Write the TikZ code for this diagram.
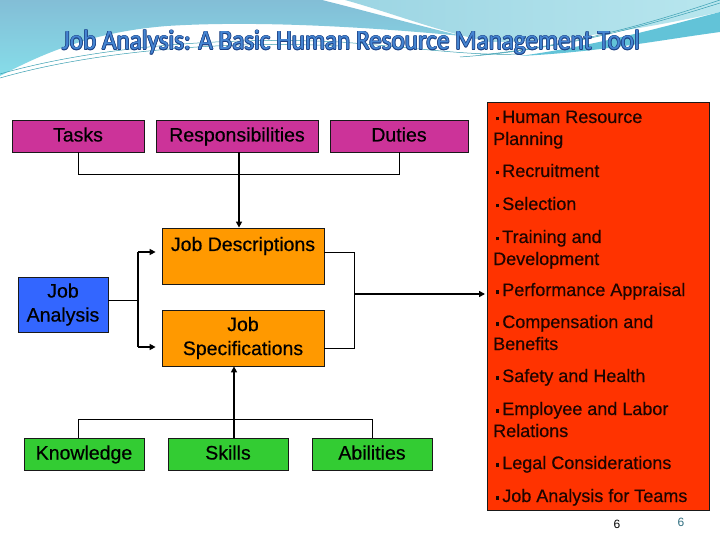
\documentclass[tikz,border=0pt]{standalone}
\usepackage{fontspec}
\setmainfont{Liberation Sans}
\newfontfamily\bxfont{Liberation Sans}[RawFeature={embolden=0.5}]
\newfontfamily\ttlfont{Carlito}
\usetikzlibrary{arrows.meta}
\definecolor{mag}{HTML}{CC3399}
\definecolor{orng}{HTML}{FF9900}
\definecolor{jblue}{HTML}{3366FF}
\definecolor{grn}{HTML}{33CC33}
\definecolor{hrred}{HTML}{FF3300}
\definecolor{hrtext}{HTML}{1E0500}
\definecolor{ttlfill}{HTML}{4585D2}
\definecolor{ttlline}{HTML}{1D4285}
\definecolor{hdrblue}{HTML}{83BED6}
\definecolor{hdrcyan}{HTML}{86DDE9}
\definecolor{hdrlightA}{HTML}{9CD5E3}
\definecolor{hdrlightB}{HTML}{B8E6EE}
\definecolor{hdrband}{HTML}{62C3D8}
\definecolor{hdrline}{HTML}{3A9FB2}
\definecolor{pgteal}{HTML}{2F6E80}
\newcommand{\ttltext}{\resizebox{578pt}{\height}{\ttlfont\fontsize{28}{32}\selectfont Job Analysis: A Basic Human Resource Management Tool}}
\newcommand{\bul}{\hspace{2.5pt}\rule[2.5pt]{3.6pt}{3.6pt}\hspace{3pt}}
\begin{document}
\begin{tikzpicture}[x=1pt,y=-1pt,
  box/.style={draw=black!90, line width=0.8pt, inner sep=0pt, text=black, font=\bxfont\fontsize{19.5}{24}\selectfont, align=center},
  onebox/.style={box, minimum height=32pt, text height=14pt, text depth=3pt},
  thinln/.style={line width=0.9pt},
  thickln/.style={line width=2pt},
  arrowend/.style={-{Triangle[length=6pt,width=6pt]}},
  item/.style={anchor=base west, inner sep=0pt, text=hrtext, font=\bxfont\fontsize{18}{22}\selectfont},
  ttl/.style={anchor=base, inner sep=0pt}]
\useasboundingbox (0,0) rectangle (720,540);
\fill[white] (0,0) rectangle (720,540);
% header background
\path[top color=hdrblue, bottom color=hdrcyan] (0,0) -- (322,0) .. controls (370,12) and (420,26) .. (462,36) .. controls (380,28) and (260,20) .. (167,26) .. controls (90,32) and (40,55) .. (0,76) -- cycle;
\path[left color=hdrlightA, right color=hdrlightB] (345,0) -- (720,0) -- (720,12) .. controls (640,30) and (560,42) .. (490,42) .. controls (440,32) and (395,14) .. (345,0) -- cycle;
\fill[hdrband] (720,12) -- (720,32) .. controls (660,40) and (600,52) .. (520,56) .. controls (600,45) and (670,25) .. (720,12) -- cycle;
\draw[hdrline, line width=0.5pt] (0,74) .. controls (90,48) and (220,36) .. (340,42) .. controls (420,48) and (470,56) .. (520,54);
\draw[hdrline, line width=0.5pt] (0,78) .. controls (90,52) and (220,40) .. (340,46);
\draw[hdrline, line width=0.5pt] (460,57) .. controls (560,50) and (650,25) .. (720,3);
\draw[hdrline, line width=0.5pt] (480,55) .. controls (580,45) and (660,20) .. (720,0);
% title
\foreach \dx/\dy [count=\k] in {0.7/0, -0.7/0, 0/0.7, 0/-0.7, 0.5/0.5, 0.5/-0.5, -0.5/0.5, -0.5/-0.5}
  \node[ttl, text=ttlline] (tsh\k) at (351+\dx, 50+\dy) {\ttltext};
\node[ttl, text=ttlfill] (title) at (351,50) {\ttltext};
% top row
\node[onebox, fill=mag, minimum width=132pt] (tasks) at (78,136) {Tasks};
\node[onebox, fill=mag, minimum width=162pt] (resp) at (237,136) {Responsibilities};
\node[onebox, fill=mag, minimum width=138pt] (duties) at (399,136) {Duties};
% middle
\node[box, fill=orng, minimum width=162pt, minimum height=56pt, text height=14pt, text depth=24pt] (jd) at (243,256) {Job Descriptions};
\node[box, fill=orng, minimum width=162pt, minimum height=56pt] (js) at (243,338) {Job\\Specifications};
\node[box, fill=jblue, minimum width=90pt, minimum height=55pt] (ja) at (63,304.5) {Job\\Analysis};
% bottom row
\node[onebox, fill=grn, minimum width=120pt] (know) at (84,454) {Knowledge};
\node[onebox, fill=grn, minimum width=120pt] (skills) at (228,454) {Skills};
\node[onebox, fill=grn, minimum width=120pt] (abil) at (372,454) {Abilities};
% HR box
\node[draw=black!90, line width=0.8pt, fill=hrred, minimum width=222pt, minimum height=408pt, inner sep=0pt, anchor=north west] (hr) at (487,102) {};
\node[item] (h1) at (493,123) {\bul Human Resource};
\node[item] (h1b) at (493,145) {Planning};
\node[item] (h2) at (493,177) {\bul Recruitment};
\node[item] (h3) at (493,210) {\bul Selection};
\node[item] (h4) at (493,243) {\bul Training and};
\node[item] (h4b) at (493,265) {Development};
\node[item] (h5) at (493,296) {\bul Performance Appraisal};
\node[item] (h6) at (493,328) {\bul Compensation and};
\node[item] (h6b) at (493,350) {Benefits};
\node[item] (h7) at (493,382) {\bul Safety and Health};
\node[item] (h8) at (493,415) {\bul Employee and Labor};
\node[item] (h8b) at (493,437) {Relations};
\node[item] (h9) at (493,469) {\bul Legal Considerations};
\node[item] (h10) at (493,502) {\bul Job Analysis for Teams};
% page numbers
\node[inner sep=0pt, font=\fontsize{12}{14}\selectfont] (pg1) at (617,524) {6};
\node[inner sep=0pt, font=\fontsize{12}{14}\selectfont, text=pgteal] (pg2) at (681,522) {6};
% connectors
\draw[thinln] (tasks.south) -- ++(0,22) -| (duties.south);
\draw[thickln, arrowend] ([xshift=2pt]resp.south) -- ([xshift=2pt]resp.south |- jd.north);
\coordinate (sp) at (138,300);
\coordinate (spt) at (138,252);
\coordinate (spb) at (138,347);
\draw[thinln] (sp -| ja.east) -- (sp);
\draw[thickln] (spt) -- (spb);
\draw[thickln, arrowend, shorten >=6pt] (spt) -- (spt -| jd.west);
\draw[thickln, arrowend, shorten >=6pt] (spb) -- (spb -| js.west);
\coordinate (rt) at (354,252);
\coordinate (rb) at (354,348);
\coordinate (rm) at (354,294);
\draw[thinln] (rt -| jd.east) -- (rt) -- (rb) -- (rb -| js.east);
\draw[thickln, arrowend, shorten >=2pt] (rm) -- (rm -| hr.west);
\draw[thickln, arrowend] ([xshift=6pt]skills.north) -- ([xshift=6pt]skills.north |- js.south);
\draw[thinln] ([xshift=-6pt]know.north) -- ++(0,-18) -| (abil.north);
\end{tikzpicture}
\end{document}
